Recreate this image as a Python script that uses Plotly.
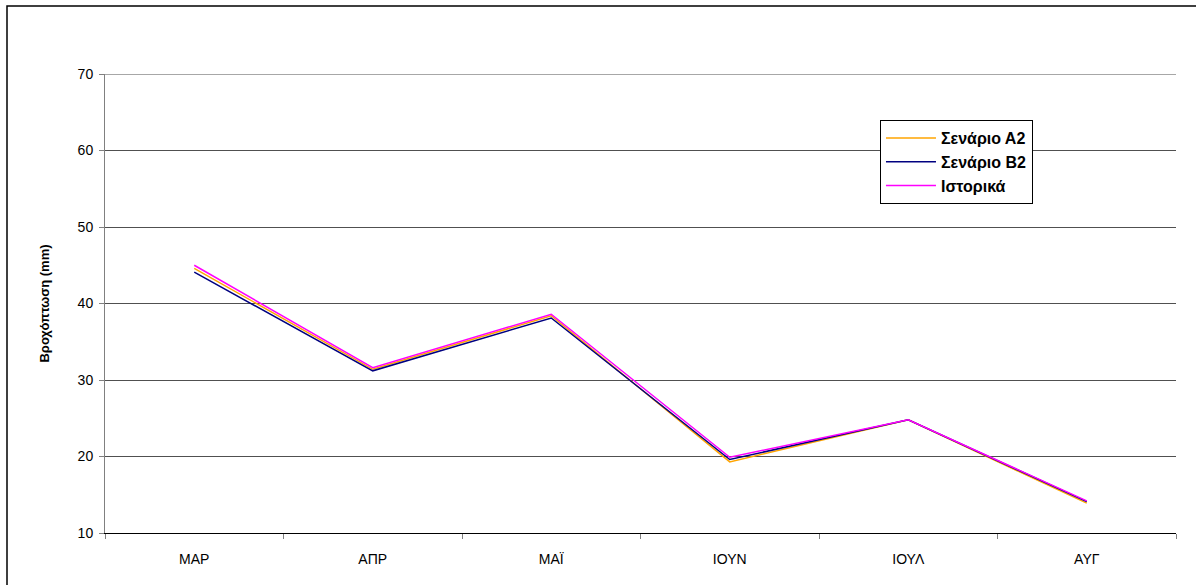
import plotly.graph_objects as go

# Monthly precipitation (mm): two climate scenarios and the historical record
months = ["ΜΑΡ", "ΑΠΡ", "ΜΑΪ", "ΙΟΥΝ", "ΙΟΥΛ", "ΑΥΓ"]
scenario_a2 = [44.6, 31.4, 38.4, 19.3, 24.8, 13.9]
scenario_b2 = [44.1, 31.2, 38.1, 19.6, 24.8, 14.1]
historical = [45.0, 31.6, 38.6, 19.9, 24.8, 14.2]

series = [
    ("Σενάριο Α2", scenario_a2, "#FFA500"),
    ("Σενάριο Β2", scenario_b2, "#000080"),
    ("Ιστορικά", historical, "#FF00FF"),
]

fig = go.Figure()
for name, values, color in series:
    fig.add_trace(go.Scatter(
        x=months, y=values, name=name, mode="lines",
        line=dict(color=color, width=1.5),
    ))

fig.update_layout(
    width=1196, height=585,
    margin=dict(l=105, r=20, t=74, b=52),
    paper_bgcolor="white", plot_bgcolor="white",
    font=dict(family="Arial, Liberation Sans, sans-serif", size=14, color="black"),
    showlegend=True,
    legend=dict(
        x=0.7236, y=0.8998, xanchor="left", yanchor="top",
        bgcolor="white", bordercolor="black", borderwidth=1,
        font=dict(size=16, weight="bold", color="black"),
        tracegroupgap=0, itemwidth=50,
    ),
    xaxis=dict(
        type="category", tickson="boundaries",
        ticks="outside", ticklen=5, tickcolor="#808080",
        showline=True, linecolor="black", linewidth=1,
        showgrid=False, tickfont=dict(size=14),
        ticklabelstandoff=13,
        range=[-0.5, 5.5],
    ),
    yaxis=dict(
        range=[10, 70], dtick=10, tick0=10,
        ticks="outside", ticklen=5, tickcolor="#808080",
        showline=True, linecolor="#808080", linewidth=1,
        showgrid=True, gridcolor="#505050", gridwidth=1,
        zeroline=False, tickfont=dict(size=14),
        ticklabelstandoff=3,
        title=dict(text="<b>Βροχόπτωση (mm)</b>", font=dict(size=13), standoff=25),
    ),
)

# Top gridline at the upper end of the value range
fig.add_shape(
    type="line", xref="paper", yref="y", x0=0, x1=1, y0=70, y1=70,
    line=dict(color="#505050", width=1),
)

# Outer chart frame
fig.add_shape(
    type="rect", xref="paper", yref="paper",
    x0=(7 - 105) / 1071, x1=1.05, y0=-0.2, y1=(533 - 6) / 459,
    line=dict(color="black", width=1.5), fillcolor="rgba(0,0,0,0)", layer="below",
)

fig.write_html("out.html")
